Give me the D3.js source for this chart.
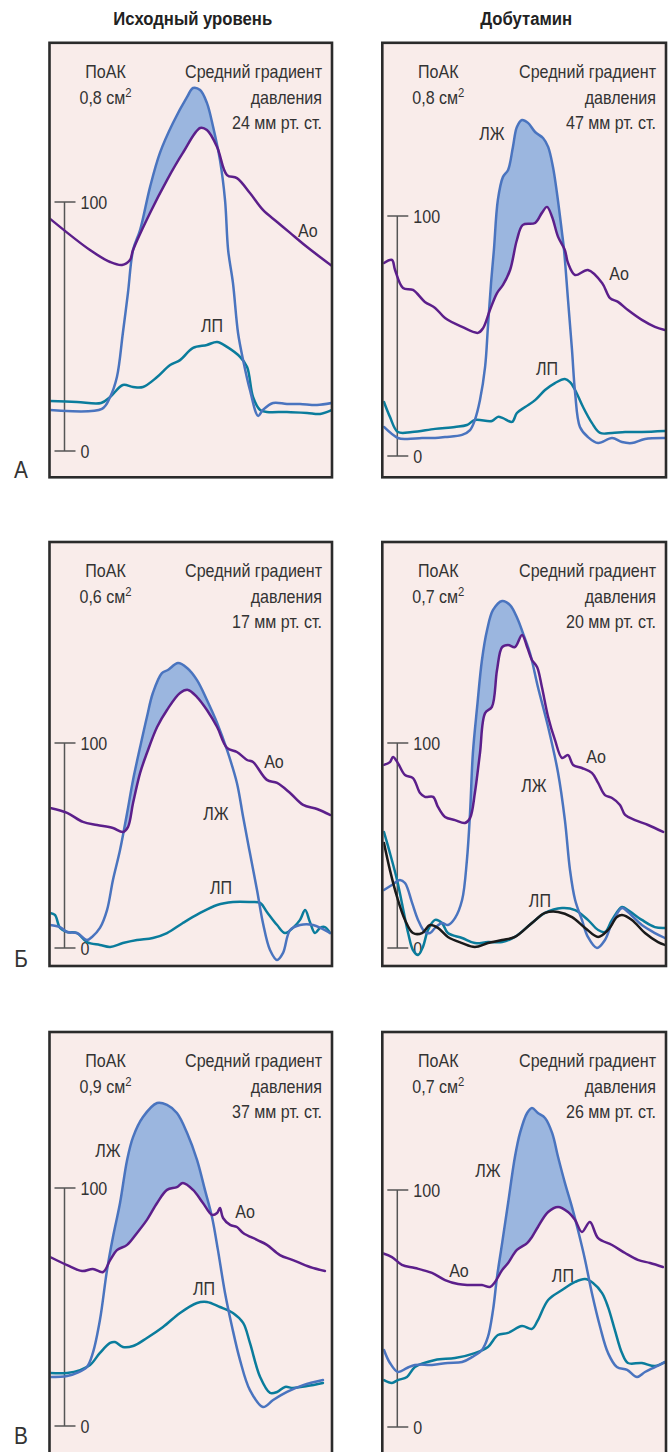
<!DOCTYPE html>
<html><head><meta charset="utf-8">
<script src="https://cdn.jsdelivr.net/npm/d3@7"></script>
<style>
html,body{margin:0;padding:0;background:#fff;}
text{font-family:"Liberation Sans",Arial,sans-serif;fill:#333;}
</style></head><body>
<svg id="chart" width="671" height="1452"></svg>
<script>
// ---------- DATA (t = % of cycle shown, p = mm Hg) ----------
const columnTitles = ["Исходный уровень", "Добутамин"];
const rowLabels = ["А", "Б", "В"];
const valveArea = ["0,8", "0,8", "0,6", "0,7", "0,9", "0,7"];
const meanGradient = [24, 47, 17, 20, 37, 26];
const scaleTicks = [0, 100];

// Row А, baseline
const lvA1 = [[0.4,16.5],[18.7,16.9],[21.6,21.7],[24,29.7],[26.1,47.4],[27.9,63.5],[29.7,80.7],[32.2,88.8],[35.7,106],[39.2,119.7],[43.8,131.7],[48.8,142.2],[50.9,145.8],[53.4,145],[55.8,139.8],[58,130.1],[60.4,116.9],[62.2,100.8],[63.3,80.7],[65,67.5],[66.8,47.4],[68.6,36.5],[71,24.5],[73.9,14.1],[75.6,16.5],[79.2,19.3],[84.1,18.9],[88.7,18.9],[94.7,18.5],[100,19.3]];
const aoA1 = [[0,93.6],[14.5,80.7],[21.6,75.9],[25.8,74.7],[28.6,76.7],[29.7,80.7],[35.7,95.6],[41.7,108.8],[47.3,119.7],[53.4,129.7],[55.8,128.9],[59.4,122.1],[62.9,110.8],[66.4,109.6],[71,103.6],[75.6,96.8],[80.6,92],[85.2,87.6],[91.2,81.9],[100,74.3]];
const laA1 = [[0.4,20.1],[9.9,19.7],[18.4,19.3],[21.6,21.7],[26.1,26.5],[29.7,25.7],[33.2,25.7],[38.2,29.7],[42.8,34.5],[46.3,36.5],[50.9,41.4],[55.8,42.6],[59.4,43.8],[62.9,41.8],[67.5,37.8],[70,33.7],[72.1,21.7],[74.6,16.5],[77,15.7],[84.1,15.7],[91.2,15.3],[95.8,14.9],[100,16.5]];
// Row А, dobutamine
const lvA2 = [[0.7,12.1],[5.6,7.5],[8.8,7.1],[14.1,7.5],[18.7,7.5],[22.2,7.9],[28.2,8.8],[31,10.8],[32.7,15],[34.5,23.3],[36.3,37.1],[37.3,53.8],[38.4,72.1],[39.4,85.8],[40.8,106.7],[42.6,116.3],[44.4,119.2],[46.1,128.8],[47.5,137.1],[49.3,140],[51.4,138.8],[53.9,135],[56.7,132.5],[58.5,128.8],[60.2,120.4],[61.6,109.6],[63.4,92.9],[64.1,85.8],[65.5,65],[66.9,44.2],[68,26.3],[69.7,12.1],[72.5,7.9],[76.1,5.4],[81,7.5],[84.5,5.8],[88,5.4],[92.6,7.1],[99.6,7.5]];
const aoA2 = [[0.7,80.4],[3.5,81.7],[4.6,77.5],[7.4,70],[10.9,69.2],[15.1,64.2],[18.7,61.7],[22.2,57.5],[28.2,53.8],[33.8,51.3],[35.6,53.3],[38,60.8],[40.5,67.9],[42.6,71.3],[45.1,77.5],[47.5,90],[49.6,96.3],[53.9,97.1],[56.3,101.3],[58.1,103.8],[59.9,99.6],[62,91.3],[64.4,85.8],[65.5,80.4],[68,75.4],[72.5,77.5],[77.5,72.1],[80.3,65.8],[83.1,64.2],[86.6,60.8],[91.5,56.7],[96.1,53.8],[99.6,52.5]];
const laA2 = [[0.7,22.5],[2.8,16.3],[5.6,10],[10.6,10],[18.7,11.3],[25.7,12.1],[29.9,12.9],[32.7,15],[38.7,14.6],[40.8,16.3],[42.6,15.8],[45.8,14.2],[47.5,17.9],[50.4,20.4],[53.9,23.3],[57.4,27.5],[60.9,30.4],[64.4,32.1],[66.2,30.8],[68,27.5],[70.8,20.4],[73.9,13.8],[76.8,9.6],[81,9.6],[85.6,10],[91.5,10],[99.6,10.4]];
// Row Б, baseline
const lvB1 = [[0.4,11.2],[3.9,10.2],[6.4,7.8],[9.9,7.3],[13.4,3.9],[15.2,5.4],[18,9.8],[20.5,18.5],[22.6,33.2],[25.1,47.8],[27.6,65.9],[29.7,82],[32.2,98],[34.6,112.7],[36.7,124.4],[39.9,134.1],[42,135.6],[45.6,139],[48.8,136.6],[52.3,130.7],[55.8,121],[59.4,109.8],[62.9,96.6],[66.4,80.5],[68.6,63.9],[71,46.3],[73.5,28.3],[75.6,12.2],[78.1,-1],[80.6,-5.9],[82.7,-2.4],[85.2,8.8],[88.7,11.2],[93.3,11.2],[99.3,7.3]];
const aoB1 = [[0.4,68.3],[6.4,65.9],[12,61.5],[17,60],[22.6,58.5],[26.1,56.6],[27.9,59],[29.7,70.7],[32.2,85.4],[34.6,95.1],[38.2,107.8],[41.7,116.1],[46.3,124.4],[49.1,125.9],[52.3,122.4],[55.8,116.1],[59.4,107.8],[62.9,97.6],[66.4,95.6],[70,91.7],[72.1,90.7],[77,82],[80.6,80.5],[85.2,75.6],[89.8,69.8],[94.7,67.8],[99.3,64.9]];
const laB1 = [[0.4,17.1],[2.1,16.1],[3.9,9.8],[6.4,7.8],[9.9,7.3],[13.4,2.9],[18,1.5],[21.6,0.5],[26.1,2.4],[31.1,3.9],[36.7,4.9],[41.7,7.3],[47.3,12.2],[53.4,17.1],[59.4,21],[65,22.4],[71,22.4],[74.6,22],[77,17.6],[80.6,11.2],[83.4,7.3],[86.2,9.8],[88.7,13.7],[90.5,18.5],[92.2,12.7],[94,7.3],[95.8,9.8],[97.5,10.2],[99.3,7.3]];
// Row Б, dobutamine
const lvB2 = [[0.7,28.3],[3.5,30.7],[6.3,33.2],[8.1,31.7],[10.6,22],[12.7,13.7],[15.1,7.8],[16.9,7.3],[18.7,9.8],[21.1,12.2],[23.2,11.2],[25.7,14.6],[28.2,23.4],[29.9,42.9],[31,65.9],[32,95.1],[33.5,117.6],[35.2,140.5],[37,155.1],[39.1,164.9],[42.3,169.3],[45.1,167.3],[47.9,160],[49.6,153.7],[52.1,143.9],[54.9,127.3],[58.5,107.8],[62,85.4],[64.4,62.4],[66.2,38],[68,23.4],[70.4,13.7],[72.5,5.4],[75.7,0],[78.5,3.9],[81,12.2],[84.5,19.5],[86.6,17.6],[91.5,11.2],[96.1,7.3],[99.6,4.9]];
const aoB2 = [[0.7,89.3],[2.8,90.7],[3.9,93.2],[5.6,90.2],[8.1,84.4],[10.9,82.9],[13.4,75.6],[15.1,73.7],[18,73.7],[19.7,68.8],[22.2,63.9],[25.7,62.4],[29.2,61],[31,63.4],[32.7,75.6],[34.5,95.1],[36.3,114.6],[38.7,117.6],[40.5,135.6],[42.3,146.8],[44.4,147.8],[46.8,146.8],[49.3,152.7],[51.1,146.8],[52.8,140.5],[54.6,137.1],[56.3,127.3],[58.5,112.7],[60.9,101.5],[63.4,92.7],[65.5,94.1],[67.3,89.3],[70.4,87.8],[73.9,85.4],[76.1,80.5],[78.5,74.6],[81,73.2],[83.8,69.8],[85.6,64.9],[89.1,62.4],[93.7,60],[99,56.6]];
const laB2 = [[0.7,56.6],[2.8,46.3],[5.3,33.2],[7,22],[9.2,7.3],[10.9,-1],[12.7,-3.4],[14.4,0.5],[16.2,8.8],[18.7,13.7],[21.1,12.2],[23.2,7.3],[28.2,4.9],[32.7,2.4],[37.3,2.9],[42.3,2.9],[46.8,5.4],[52.8,12.2],[57.4,17.1],[63.4,19.5],[68,18.5],[72.5,13.7],[76.1,8.8],[78.5,7.8],[81,13.7],[84.5,20],[86.6,18.5],[91.5,13.7],[96.1,10.2],[99.6,9.8]];
const extraB2 = [[0.7,51.2],[2.8,38],[5.3,24.9],[8.1,13.7],[10.9,7.3],[14.1,7.3],[16.9,11.2],[19.7,9.8],[23.2,5.4],[28.2,2.4],[32.7,0.5],[37.3,2.4],[42.3,3.9],[46.8,5.4],[52.8,12.2],[57.4,17.1],[62,17.6],[66.9,15.1],[71.5,9.8],[76.1,5.4],[79.6,8.8],[82.7,15.1],[84.5,16.1],[88,13.7],[92.6,7.3],[97.2,2.9],[99.6,1.5]];
// Row В, baseline
const lvV1 = [[0.4,20.6],[6.4,21],[9.9,22.3],[13.4,24.8],[15.5,30.7],[18,44.5],[20.5,65.5],[22.6,79.4],[25.1,93.7],[27.6,111.8],[29.7,121.4],[33.2,129.8],[38.2,135.7],[41.7,134.9],[45.2,131.5],[48.8,123.1],[52.3,111.8],[55.1,99.2],[57.6,87.8],[59.7,73.9],[62.2,55.9],[64.7,41.6],[67.5,27.7],[71,15.1],[75.6,8],[79.2,10.9],[84.1,14.3],[89.8,17.2],[96.8,19.3]];
const aoV1 = [[0.4,71],[6.4,67.6],[11.7,65.1],[15.5,66],[19.1,64.7],[21.6,69.7],[24,73.9],[27.6,76.1],[31.1,81.1],[34.6,86.6],[38.2,93.7],[41.7,99.2],[45.2,100.4],[47.3,102.1],[50.9,99.2],[54.4,93.7],[57.6,88.7],[59.4,89.5],[60.4,91.6],[61.5,87.4],[64,84.5],[66.4,83.6],[68.6,81.1],[73.5,78.2],[77,76.1],[81.6,71.8],[86.2,69.7],[92.2,66.8],[97.5,65.1]];
const laV1 = [[0.4,22.3],[6.4,22.3],[11,23.5],[14.5,25.6],[18,30.7],[21.6,34.9],[23.3,35.3],[26.1,33.2],[29.7,33.6],[34.6,37],[40.3,41.6],[46.3,47.5],[52.3,51.7],[55.8,52.1],[60.4,50],[65,47.5],[68.6,43.3],[71,34.9],[74.6,20.6],[78.1,13.9],[80.6,14.3],[83.4,16.4],[86.2,16],[91.2,16.8],[96.8,18.1]];
// Row В, dobutamine
const lvV2 = [[0.7,32.5],[2.8,27],[5.6,23.2],[8.8,24.9],[11.6,26.2],[17.6,26.2],[23.2,27],[28.2,27.4],[31.7,29.5],[35.2,32.5],[37.3,38],[39.1,49.4],[40.5,63.3],[42.3,77.6],[44.4,94.5],[46.8,113.9],[48.6,124.1],[51.1,132.5],[52.8,134.6],[54.9,132.5],[57.4,130.4],[59.9,124.1],[62,113.9],[64.4,103],[66.9,92.8],[69,83.1],[71.5,70.5],[73.9,56.5],[76.8,42.2],[79.6,31.2],[82.7,25.3],[86.3,24.1],[89.8,21.1],[92.6,23.2],[96.1,25.3],[99.6,27.4]];
const aoV2 = [[0,73.4],[3.5,71.7],[7,68.4],[11.6,67.1],[17.6,65],[22.2,62],[26.8,60.3],[30.3,59.9],[35.2,59.9],[38,59.1],[39.8,61.2],[42.3,66.2],[44.4,69.2],[47.5,74.7],[51.1,77.6],[52.8,80.2],[54.9,84.4],[58.5,90.7],[62,92.8],[65.5,90.7],[68,87.3],[70.4,82.3],[73.2,86.5],[76.1,79.7],[81,76.8],[85.6,73.4],[90.1,70.5],[94.4,69.2],[98.9,67.5]];
const laV2 = [[0.7,19.8],[3.5,18.6],[5.6,19.8],[8.8,21.1],[11.6,25.3],[18.7,28.3],[25.7,29.1],[32.7,31.2],[37.3,33.8],[40.8,38.8],[44.4,39.7],[49.3,42.6],[52.8,41.4],[54.9,45.1],[58.5,53.6],[63.4,57.8],[68,61.2],[71.5,62.4],[74.3,60.8],[77.5,56.5],[79.6,50.6],[82,40.9],[84.5,31.2],[86.6,27],[91.5,27],[96.1,25.7],[99.6,27.4]];

// curve labels: [text, t, p]
const labelsA1 = [["Ао",91.5,85.9],["ЛП",57.6,47.8]];
const labelsA2 = [["ЛЖ",38.7,131.7],["Ао",83.5,73.3],["ЛП",58.1,33.8]];
const labelsB1 = [["Ао",79.5,87.8],["ЛЖ",59.0,62.4],["ЛП",60.8,26.3]];
const labelsB2 = [["Ао",75.4,90.2],["ЛЖ",53.5,76.1],["ЛП",55.6,20]];
const labelsV1 = [["ЛЖ",20.8,113],["Ао",69.3,87.4],["ЛП",54.8,55]];
const labelsV2 = [["ЛЖ",37.3,105.5],["Ао",27.1,63.3],["ЛП",63.7,61.2]];

// ---------- LAYOUT ----------
const colBox = [[49.5, 332], [382.3, 666]];
const colRange = [[49, 332], [382, 666]];
const rowBox = [[42.8, 477.3], [542, 966], [1032, 1480]];
const scalePx = [[451,202],[456,216],[948,743],[948,743],[1426,1188],[1427,1190]];

const panels = [
  {lv:lvA1, ao:aoA1, la:laA1, labels:labelsA1},
  {lv:lvA2, ao:aoA2, la:laA2, labels:labelsA2},
  {lv:lvB1, ao:aoB1, la:laB1, labels:labelsB1},
  {lv:lvB2, ao:aoB2, la:laB2, extra:extraB2, labels:labelsB2},
  {lv:lvV1, ao:aoV1, la:laV1, labels:labelsV1},
  {lv:lvV2, ao:aoV2, la:laV2, labels:labelsV2}
];

const C = {bg:"#f9ecea", border:"#2b2b2b", lv:"#4a74bf", fill:"#9bb6df", ao:"#5c1f8b", la:"#0a7c9c", extra:"#1a1a1a", text:"#333", scale:"#555"};
const FS = 18.5;

const svg = d3.select("#chart");
const defs = svg.append("defs");

// condensed-font emulation: measure and scale horizontally
function measure(str, size, weight){
  const t = svg.append("text").attr("font-size",size).attr("font-weight",weight||"normal").text(str);
  const w = t.node().getComputedTextLength(); t.remove(); return w;
}
const condense = 137 / measure("Средний градиент", FS);
const condenseBold = 159 / measure("Исходный уровень", 17.5, "bold");

function txt(parent, x, y, anchor, size, f){
  const g = parent.append("g").attr("transform",`translate(${x},${y}) scale(${f||condense},1)`);
  return g.append("text").attr("text-anchor",anchor).attr("font-size",size);
}

// column titles
columnTitles.forEach((t,i)=>{
  txt(svg, (colBox[i][0]+colBox[i][1])/2 + 2, 25, "middle", 17.5, condenseBold)
    .attr("font-weight","bold").style("fill","#222").text(t);
});
// row labels
const rowLabelY = [478, 967, 1444];
rowLabels.forEach((t,i)=>{
  txt(svg, 21, rowLabelY[i], "middle", 24).text(t);
});

const curve = d3.curveCatmullRom.alpha(0.5);

panels.forEach((P, k)=>{
  const r = Math.floor(k/2), c = k%2;
  const L = colBox[c][0], R = colBox[c][1], T = rowBox[r][0], B = rowBox[r][1];
  const x = d3.scaleLinear().domain([0,100]).range(colRange[c]);
  const y = d3.scaleLinear().domain([0,100]).range(scalePx[k]);
  const g = svg.append("g");
  g.append("rect").attr("x",L).attr("y",T).attr("width",R-L).attr("height",B-T).attr("fill",C.bg);

  const clipId = "clip"+k;
  defs.append("clipPath").attr("id",clipId).append("rect")
    .attr("x",L+1).attr("y",T+1).attr("width",R-L-2).attr("height",B-T-2);

  // scale bar
  const sx = L + 15;
  const sb = g.append("g").attr("stroke",C.scale).attr("stroke-width",1.5);
  sb.append("line").attr("x1",sx).attr("x2",sx).attr("y1",y(0)).attr("y2",y(100));
  scaleTicks.forEach(v=>{
    sb.append("line").attr("x1",sx-10).attr("x2",sx+11).attr("y1",y(v)).attr("y2",y(v));
    txt(g, sx+16, y(v), "start", FS).attr("dy","0.36em").text(v);
  });

  // annotations
  const cx = L + 56;
  txt(g, cx, T+35, "middle", FS).text("ПоАК");
  const t2 = txt(g, cx, T+61, "middle", FS);
  t2.append("tspan").text(valveArea[k]+" см");
  t2.append("tspan").attr("font-size",13).attr("dy",-7).text("2");
  const rx = R - 10;
  txt(g, rx, T+35, "end", FS).text("Средний градиент");
  txt(g, rx, T+61, "end", FS).text("давления");
  txt(g, rx, T+86, "end", FS).text(meanGradient[k]+" мм рт. ст.");

  const plot = g.append("g").attr("clip-path",`url(#${clipId})`);
  const line = d3.line().x(d=>x(d[0])).y(d=>y(d[1])).curve(curve);

  // fill between LV and Ao where LV above Ao
  const aoClipId = "aoclip"+k;
  defs.append("clipPath").attr("id",aoClipId).append("path")
    .attr("d", d3.area().x(d=>x(d[0])).y0(T-50).y1(d=>y(d[1])).curve(curve)(P.ao));
  plot.append("g").attr("clip-path",`url(#${aoClipId})`).append("path")
    .attr("d", d3.area().x(d=>x(d[0])).y0(B+50).y1(d=>y(d[1])).curve(curve)(P.lv))
    .attr("fill",C.fill);

  const draw = (data,color)=> plot.append("path").attr("d",line(data)).attr("fill","none")
    .attr("stroke",color).attr("stroke-width",2.5).attr("stroke-linejoin","round").attr("stroke-linecap","round");
  draw(P.la, C.la);
  draw(P.lv, C.lv);
  draw(P.ao, C.ao);
  if (P.extra) draw(P.extra, C.extra);

  P.labels.forEach(l=>{
    txt(g, x(l[1]), y(l[2]), "middle", FS).text(l[0]);
  });

  g.append("rect").attr("x",L).attr("y",T).attr("width",R-L).attr("height",B-T)
    .attr("fill","none").attr("stroke",C.border).attr("stroke-width",2.6);
});
</script>
</body></html>
